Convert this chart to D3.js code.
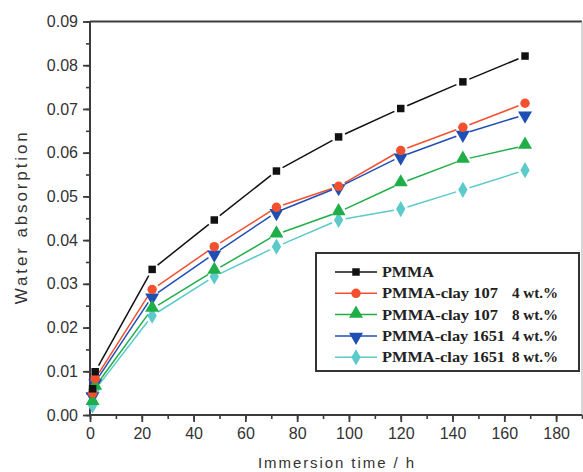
<!DOCTYPE html>
<html>
<head>
<meta charset="utf-8">
<script src="https://cdn.jsdelivr.net/npm/d3@7/dist/d3.min.js"></script>
<style>
  html, body { margin: 0; padding: 0; background: #fff; }
  svg { display: block; }
</style>
</head>
<body>
<script>
// Immersion times (h) at which water uptake was measured
const times = [1, 2, 24, 48, 72, 96, 120, 144, 168];

// Water absorption for each sample
const pmma        = [0.0060, 0.0099, 0.0333, 0.0446, 0.0558, 0.0636, 0.0701, 0.0762, 0.0821];
const clay107_4   = [0.0050, 0.0083, 0.0287, 0.0385, 0.0475, 0.0523, 0.0605, 0.0658, 0.0713];
const clay107_8   = [0.0030, 0.0065, 0.0243, 0.0330, 0.0413, 0.0464, 0.0530, 0.0584, 0.0616];
const clay1651_4  = [0.0045, 0.0075, 0.0271, 0.0369, 0.0464, 0.0521, 0.0591, 0.0643, 0.0687];
const clay1651_8  = [0.0022, 0.0058, 0.0227, 0.0317, 0.0385, 0.0446, 0.0471, 0.0515, 0.0560];

const seriesNames = ["PMMA", "PMMA-clay 107", "PMMA-clay 107", "PMMA-clay 1651", "PMMA-clay 1651"];
const seriesLoads = ["", "4 wt.%", "8 wt.%", "4 wt.%", "8 wt.%"];
const seriesValues = [pmma, clay107_4, clay107_8, clay1651_4, clay1651_8];
const seriesColors = ["#111111", "#f2502e", "#1fae48", "#1f4fb4", "#5ccaca"];
const seriesSymbols = ["square", "circle", "triangle", "triangleDown", "diamond"];

const xTicks = [0, 20, 40, 60, 80, 100, 120, 140, 160, 180];
const yTicks = [0, 0.01, 0.02, 0.03, 0.04, 0.05, 0.06, 0.07, 0.08, 0.09];

const W = 583, H = 472;
const mLeft = 90, mRight = 582, mTop = 21.5, mBottom = 415;

const svg = d3.select("body").append("svg").attr("width", W).attr("height", H);

const x = d3.scaleLinear().domain([0, 190]).range([mLeft, mRight]);
const y = d3.scaleLinear().domain([0, 0.09]).range([mBottom, mTop]);

const axisColor = "#3c3c3c";
const tickFont = "'Liberation Sans', Arial, sans-serif";

// Frame
svg.append("line").attr("x1", mLeft).attr("x2", mRight).attr("y1", mTop).attr("y2", mTop)
  .attr("stroke", axisColor).attr("stroke-width", 2);
svg.append("line").attr("x1", mRight).attr("x2", mRight).attr("y1", mTop).attr("y2", mBottom)
  .attr("stroke", "#bdbdbd").attr("stroke-width", 1.2);

// X axis with minor ticks
const xMinor = d3.range(0, 191, 10);
svg.append("g").attr("transform", `translate(0,${mBottom})`)
  .call(d3.axisBottom(x).tickValues(xMinor).tickSize(4).tickFormat(""))
  .call(g => g.select(".domain").remove())
  .call(g => g.selectAll("line").attr("stroke", axisColor).attr("stroke-width", 1.6));
const xAxis = svg.append("g").attr("transform", `translate(0,${mBottom})`)
  .call(d3.axisBottom(x).tickValues(xTicks).tickSize(7).tickSizeOuter(0).tickPadding(6).tickFormat(d3.format("d")));
xAxis.select(".domain").attr("stroke", axisColor).attr("stroke-width", 2)
  .attr("d", `M${mLeft},0H${mRight}`);
xAxis.selectAll("line").attr("stroke", axisColor).attr("stroke-width", 1.8);
xAxis.selectAll("text").attr("font-family", tickFont).attr("font-size", 16).attr("fill", "#333");

// Y axis with minor ticks
const yMinor = d3.range(0, 0.0901, 0.005);
svg.append("g").attr("transform", `translate(${mLeft},0)`)
  .call(d3.axisLeft(y).tickValues(yMinor).tickSize(4).tickFormat(""))
  .call(g => g.select(".domain").remove())
  .call(g => g.selectAll("line").attr("stroke", axisColor).attr("stroke-width", 1.6));
const yAxis = svg.append("g").attr("transform", `translate(${mLeft},0)`)
  .call(d3.axisLeft(y).tickValues(yTicks).tickSize(7).tickSizeOuter(0).tickPadding(5).tickFormat(d3.format(".2f")));
yAxis.select(".domain").attr("stroke", axisColor).attr("stroke-width", 2)
  .attr("d", `M0,${mBottom + 1}V${mTop}`);
yAxis.selectAll("line").attr("stroke", axisColor).attr("stroke-width", 1.8);
yAxis.selectAll("text").attr("font-family", tickFont).attr("font-size", 16).attr("fill", "#333");

// Axis titles
svg.append("text").attr("x", (mLeft + mRight) / 2).attr("y", 468)
  .attr("text-anchor", "middle").attr("font-family", tickFont).attr("font-size", 15)
  .attr("fill", "#333").attr("textLength", 156).attr("lengthAdjust", "spacing")
  .text("Immersion time / h");
svg.append("text").attr("transform", `translate(27,${(mTop + mBottom) / 2}) rotate(-90)`)
  .attr("text-anchor", "middle").attr("font-family", tickFont).attr("font-size", 17)
  .attr("fill", "#333").attr("textLength", 172).attr("lengthAdjust", "spacing")
  .text("Water absorption");

// Marker shapes
const symbolMap = {
  square: d3.symbol().type(d3.symbolSquare).size(56),
  circle: d3.symbol().type(d3.symbolCircle).size(70),
  triangle: d3.symbol().type(d3.symbolTriangle).size(85),
  triangleDown: d3.symbol().type(d3.symbolTriangle).size(85),
  diamond: d3.symbol().type(d3.symbolDiamond).size(75)
};
function marker(g, sym, cx, cy, color) {
  const p = g.append("path").attr("d", symbolMap[sym]()).attr("fill", color);
  const rot = sym === "triangleDown" ? " rotate(180)" : "";
  const tr = sym === "triangle" ? -1 : (sym === "triangleDown" ? 1 : 0);
  p.attr("transform", `translate(${cx},${cy + tr})${rot}`);
  return p;
}

// Connecting lines, broken just short of each marker
const gap = 7;
const plot = svg.append("g");
seriesValues.forEach((vals, si) => {
  const pts = times.map((t, i) => [x(t), y(vals[i])]);
  const g = plot.append("g");
  for (let i = 0; i < pts.length - 1; i++) {
    const [x0, y0] = pts[i], [x1, y1] = pts[i + 1];
    const dx = x1 - x0, dy = y1 - y0, len = Math.hypot(dx, dy);
    if (len <= 2 * gap) continue;
    const ux = dx / len, uy = dy / len;
    g.append("line")
      .attr("x1", x0 + ux * gap).attr("y1", y0 + uy * gap)
      .attr("x2", x1 - ux * gap).attr("y2", y1 - uy * gap)
      .attr("stroke", seriesColors[si]).attr("stroke-width", 1.5);
  }
});
// Markers drawn last series first so PMMA sits on top
for (let si = seriesValues.length - 1; si >= 0; si--) {
  const g = plot.append("g");
  times.forEach((t, i) => marker(g, seriesSymbols[si], x(t), y(seriesValues[si][i]), seriesColors[si]));
}

// Legend
const lg = svg.append("g");
lg.append("rect").attr("x", 316).attr("y", 253).attr("width", 263).attr("height", 118)
  .attr("fill", "#fff").attr("stroke", "#333").attr("stroke-width", 2);
const legendFont = "'Liberation Serif', 'Times New Roman', serif";
const nameWidths = [52, 116, 116, 123, 123];
seriesNames.forEach((name, i) => {
  const ry = 272 + i * 21.3;
  lg.append("line").attr("x1", 335).attr("x2", 377).attr("y1", ry).attr("y2", ry)
    .attr("stroke", seriesColors[i]).attr("stroke-width", 1.5);
  marker(lg, seriesSymbols[i], 356, ry, seriesColors[i]);
  lg.append("text").attr("x", 382).attr("y", ry + 5).attr("font-family", legendFont)
    .attr("font-weight", "bold").attr("font-size", 14).attr("fill", "#222")
    .attr("textLength", nameWidths[i]).attr("lengthAdjust", "spacingAndGlyphs").text(name);
  if (seriesLoads[i]) {
    lg.append("text").attr("x", 512).attr("y", ry + 5).attr("font-family", legendFont)
      .attr("font-weight", "bold").attr("font-size", 14).attr("fill", "#222")
      .attr("textLength", 46).attr("lengthAdjust", "spacingAndGlyphs").text(seriesLoads[i]);
  }
});
</script>
</body>
</html>
